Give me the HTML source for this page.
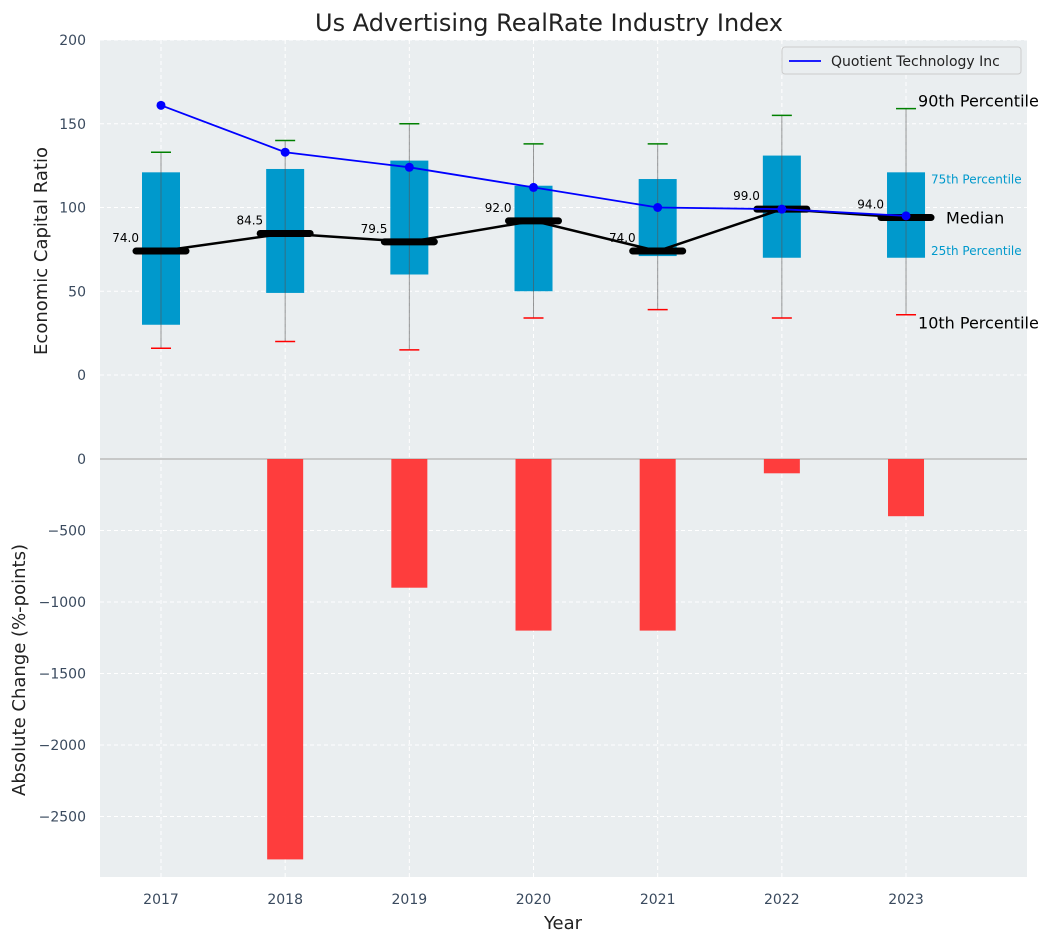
<!DOCTYPE html>
<html><head><meta charset="utf-8"><style>
body{margin:0;background:#fff;font-family:"Liberation Sans","DejaVu Sans",sans-serif}
svg text{font-family:"DejaVu Sans","Liberation Sans",sans-serif}
</style></head><body>
<svg id="chart" width="1053" height="942" viewBox="0 0 1053 942" xmlns="http://www.w3.org/2000/svg"></svg>
<script>
const years=[2017,2018,2019,2020,2021,2022,2023];
const p10=[16,20,15,34,39,34,36];
const q1=[30,49,60,50,71,70,70];
const median=[74,84.5,79.5,92,74,99,94];
const q3=[121,123,128,113,117,131,121];
const p90=[133,140,150,138,138,155,159];
const quotient=[161,133,124,112,100,99,95];
const absChange=[0,-2800,-900,-1200,-1200,-100,-400];
const topTicks=[0,50,100,150,200];
const botTicks=[0,-500,-1000,-1500,-2000,-2500];

const svg=document.getElementById('chart');
const NS='http://www.w3.org/2000/svg';
const X=v=>161+(v-2017)*124.17;
const YT=v=>375-v*1.675;
const YB=v=>459-v*0.143;
function mk(tag,attrs,parent){const e=document.createElementNS(NS,tag);for(const k in attrs)e.setAttribute(k,attrs[k]);(parent||svg).appendChild(e);return e;}
function txt(s,attrs){const e=mk('text',attrs);e.textContent=s;return e;}

const bg=mk('rect',{x:100,y:40,width:927,height:837,fill:'#eaeef0'});


topTicks.forEach(t=>{mk('line',{x1:100,x2:1027,y1:YT(t),y2:YT(t),stroke:'#fff','stroke-dasharray':'4,3','stroke-width':1});
 const l=txt(String(t),{x:86,y:YT(t)+5,'text-anchor':'end','font-size':14,fill:'#3a4a5e'});
 
 });
botTicks.forEach(t=>{mk('line',{x1:100,x2:1027,y1:YB(t),y2:YB(t),stroke:'#fff','stroke-dasharray':'4,3','stroke-width':1});
 const l=txt(String(t).replace('-','\u2212'),{x:86,y:YB(t)+5,'text-anchor':'end','font-size':14,fill:'#3a4a5e'});
 
 });
years.forEach(y=>{mk('line',{x1:X(y),x2:X(y),y1:40,y2:877,stroke:'#fff','stroke-dasharray':'4,3','stroke-width':1});
 const l=txt(String(y),{x:X(y),y:904,'text-anchor':'middle','font-size':14,fill:'#3a4a5e'});
 
 });
mk('line',{x1:100,x2:1027,y1:YB(0),y2:YB(0),stroke:'#bbb','stroke-width':1.5});

years.forEach((y,i)=>{const v=absChange[i];if(v===0)return;
 const r=mk('rect',{x:X(y)-18,y:YB(0),width:36,height:YB(v)-YB(0),fill:'#ff3333','fill-opacity':0.95});
 
 });

years.forEach((y,i)=>{const x=X(y);
 const b=mk('rect',{x:x-19,y:YT(q3[i]),width:38,height:YT(q1[i])-YT(q3[i]),fill:'#0099cc'});
 
 
 mk('line',{x1:x,x2:x,y1:YT(p10[i]),y2:YT(p90[i]),stroke:'#555','stroke-opacity':0.6,'stroke-width':1});
 const g=mk('line',{x1:x-10,x2:x+10,y1:YT(p90[i]),y2:YT(p90[i]),stroke:'green','stroke-width':1.5});
 
 
 const r=mk('line',{x1:x-10,x2:x+10,y1:YT(p10[i]),y2:YT(p10[i]),stroke:'red','stroke-width':1.5});
 
 
});
const mp=mk('polyline',{points:years.map((y,i)=>X(y)+','+YT(median[i])).join(' '),fill:'none',stroke:'#000','stroke-width':2.5});


years.forEach((y,i)=>{const x=X(y);
 const m=mk('line',{x1:x-25,x2:x+25,y1:YT(median[i]),y2:YT(median[i]),stroke:'#000','stroke-width':7,'stroke-linecap':'round'});
 
 
 const t=txt(median[i].toFixed(1),{x:x-22,y:YT(median[i])-9,'text-anchor':'end','font-size':12,fill:'#000'});
 
 
});
const ql=mk('polyline',{points:years.map((y,i)=>X(y)+','+YT(quotient[i])).join(' '),fill:'none',stroke:'#0000ff','stroke-width':1.8});


years.forEach((y,i)=>{const c=mk('circle',{cx:X(y),cy:YT(quotient[i]),r:4.5,fill:'#0000ff'});
 
 });

const last=years.length-1, xl=X(years[last]);
[['90th Percentile',xl+12,YT(p90[last])-2,16,'#000'],['10th Percentile',xl+12,YT(p10[last])+14,16,'#000'],
 ['Median',xl+40,YT(median[last])+6,16,'#000'],['75th Percentile',xl+25,YT(q3[last])+11,12,'#0099cc'],
 ['25th Percentile',xl+25,YT(q1[last])-3,12,'#0099cc']].forEach(a=>{
 const t=txt(a[0],{x:a[1],y:a[2],'font-size':a[3],fill:a[4]});
 
 });

const lg=mk('g',{});


mk('rect',{x:782,y:47,width:239,height:27,rx:3,fill:'#eaeef0',stroke:'#ccc'},lg);
mk('line',{x1:789,x2:821,y1:61,y2:61,stroke:'#0000ff','stroke-width':1.8},lg);
const lt=mk('text',{x:831,y:66,'font-size':14,fill:'#222'},lg);lt.textContent='Quotient Technology Inc';

const ti=txt('Us Advertising RealRate Industry Index',{x:549,y:31,'text-anchor':'middle','font-size':24,fill:'#222'});


const xt=txt('Year',{x:563,y:929,'text-anchor':'middle','font-size':18,fill:'#222'});


const yt1=txt('Economic Capital Ratio',{x:0,y:0,'text-anchor':'middle','font-size':18,fill:'#222',transform:'translate(47,251) rotate(-90)'});


const yt2=txt('Absolute Change (%-points)',{x:0,y:0,'text-anchor':'middle','font-size':18,fill:'#222',transform:'translate(25,670) rotate(-90)'});


</script>
</body></html>
